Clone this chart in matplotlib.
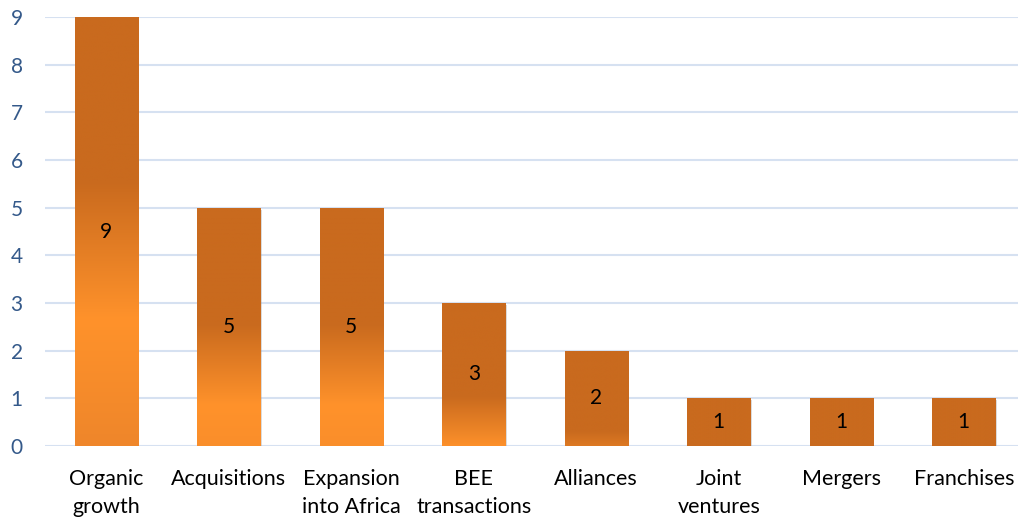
import numpy as np
import matplotlib
matplotlib.use("Agg")
import matplotlib.pyplot as plt
from matplotlib.colors import to_rgb
import matplotlib.patches as mpatches

categories = ["Organic\ngrowth", "Acquisitions", "Expansion\ninto Africa", "BEE\ntransactions",
              "Alliances", "Joint\nventures", "Mergers", "Franchises"]
values = [9, 5, 5, 3, 2, 1, 1, 1]
y_ticks = list(range(0, 10))

DARK = np.array(to_rgb("#C96A1E"))
LIGHT = np.array(to_rgb("#FF922B"))
MID = np.array(to_rgb("#E57F2A"))

plt.rcParams['font.family'] = ['Lato', 'DejaVu Sans']

fig = plt.figure(figsize=(10.18, 5.19), dpi=100)
ax = fig.add_axes([45/1018, 73/519, 980/1018, 429/519])

x = np.arange(len(categories))
bw = 0.515
bars = ax.bar(x, values, width=bw, facecolor="none", edgecolor="none", zorder=3)

ax.set_xlim(-0.5, len(categories) - 0.5)
ax.set_ylim(0, 9)

def grad_colors(h, ys):
    c = 0.45 * h - 1.4
    w = 0.3 * h + 0.2
    out = []
    for y in ys:
        if y >= c:
            t = np.clip(1 - (y - c) / w, 0, 1)
            col = DARK * (1 - t) + LIGHT * t
        else:
            s = np.clip((c - y) / 2.5, 0, 1) * 0.6
            col = LIGHT * (1 - s) + MID * s
        out.append(col)
    return np.array(out)

for b, h in zip(bars, values):
    x0 = b.get_x(); w = b.get_width()
    sh = mpatches.Rectangle((x0 + 0.012, -0.04), w, h, facecolor="#9a9a9a", alpha=0.35,
                            edgecolor="none", zorder=2)
    ax.add_patch(sh)
    sh2 = mpatches.Rectangle((x0 + 0.006, -0.02), w, h, facecolor="#9a9a9a", alpha=0.3,
                             edgecolor="none", zorder=2)
    ax.add_patch(sh2)
    ys = np.linspace(h, 0, 300)
    img = grad_colors(h, ys).reshape(-1, 1, 3)
    im = ax.imshow(img, extent=[x0, x0 + w, 0, h], aspect="auto", zorder=3,
                   interpolation="bilinear")
    im.set_clip_path(b)
    ax.text(b.get_x() + w / 2, h / 2, str(h), ha="center", va="center",
            fontsize=15, color="black", zorder=5)

ax.set_aspect("auto")
ax.set_xlim(-0.5, len(categories) - 0.5)
ax.set_ylim(0, 9)

ax.set_yticks(y_ticks)
ax.set_yticklabels([str(t) for t in y_ticks], fontsize=15, color="#34598A")
ax.set_xticks(x)
ax.set_xticklabels(categories, fontsize=15.5, color="black", linespacing=1.5, va="top")
ax.tick_params(axis="both", length=0)
ax.tick_params(axis="y", pad=16)
ax.tick_params(axis="x", pad=16.5)

ax.grid(axis="y", color="#D6E1F1", linewidth=1.5, zorder=0)
ax.set_axisbelow(True)
for s in ax.spines.values():
    s.set_visible(False)

fig.savefig("out.png", dpi=100)
